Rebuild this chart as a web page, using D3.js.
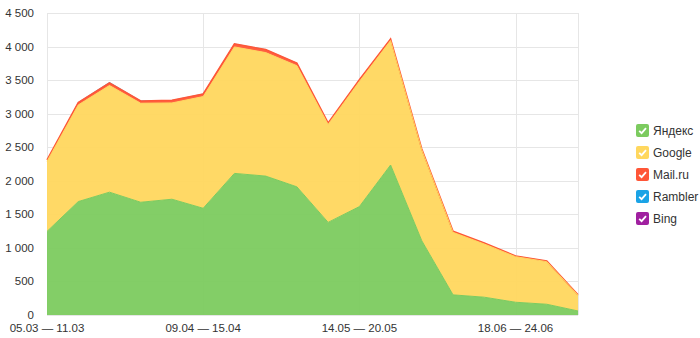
<!DOCTYPE html>
<html><head><meta charset="utf-8">
<script src="https://cdn.jsdelivr.net/npm/d3@7"></script>
<style>
body{margin:0;background:#fff;}
svg{display:block;font-family:"Liberation Sans",Arial,sans-serif;}
</style></head>
<body><svg id="c" width="700" height="338"></svg>
<script>
const categories = ["05.03 — 11.03","12.03 — 18.03","19.03 — 25.03","26.03 — 01.04","02.04 — 08.04","09.04 — 15.04","16.04 — 22.04","23.04 — 29.04","30.04 — 06.05","07.05 — 13.05","14.05 — 20.05","21.05 — 27.05","28.05 — 03.06","04.06 — 10.06","11.06 — 17.06","18.06 — 24.06","25.06 — 01.07","02.07 — 08.07"];
const seriesNames = ["Яндекс","Google","Mail.ru","Rambler","Bing"];
const yandex  = [1245,1690,1830,1680,1725,1590,2110,2070,1910,1380,1615,2235,1105,300,265,190,160,60];
const google  = [1045,1440,1590,1475,1435,1665,1885,1840,1805,1460,1865,1855,1355,932,793,679,635,235];
const mailru  = [20,35,40,35,40,40,45,45,40,22,25,25,15,15,15,12,10,8];
const rambler = [3,8,10,5,5,5,6,5,5,3,3,3,2,2,2,2,2,1];
const bing    = [0,1,1,0,0,0,1,0,0,0,0,0,0,0,0,0,0,0];
const yTicks  = [0,500,1000,1500,2000,2500,3000,3500,4000,4500];
const xLabelIdx = [0,5,10,15];
const colors = ["#7ccb5f","#ffd75e","#ff5637","#1aa3e6","#a020a0"];

const svg = d3.select("#c");
const m = {l:47, r:578, t:13, b:315};
const x = d3.scalePoint().domain(d3.range(categories.length)).range([m.l, m.r]);
const y = d3.scaleLinear().domain([0,4500]).range([m.b, m.t]);
const loc = d3.formatLocale({decimal:",", thousands:"\u00a0", grouping:[3], currency:["",""]});
const fmt = loc.format(",d");

// grid
const g = svg.append("g");
g.selectAll("line.h").data(yTicks).join("line")
  .attr("x1", m.l).attr("x2", m.r).attr("y1", d=>Math.round(y(d))+0.5).attr("y2", d=>Math.round(y(d))+0.5)
  .attr("stroke", "#e6e6e6");
g.selectAll("line.v").data(xLabelIdx.slice(1)).join("line")
  .attr("x1", d=>Math.round(x(d))+0.5).attr("x2", d=>Math.round(x(d))+0.5).attr("y1", m.t).attr("y2", m.b)
  .attr("stroke", "#e6e6e6");
g.append("line").attr("x1", m.r+0.5).attr("x2", m.r+0.5).attr("y1", m.t).attr("y2", m.b).attr("stroke","#e6e6e6");
g.append("line").attr("x1", m.l+0.5).attr("x2", m.l+0.5).attr("y1", m.t).attr("y2", m.b).attr("stroke","#e6e6e6");

// stacked data
const rows = categories.map((c,i)=>({i, "Яндекс":yandex[i], "Google":google[i], "Mail.ru":mailru[i], "Rambler":rambler[i], "Bing":bing[i]}));
const stack = d3.stack().keys(seriesNames)(rows);
const area = d3.area().x(d=>x(d.data.i)).y0(d=>y(d[0])).y1(d=>y(d[1]));
const line = d3.line().x(d=>x(d.data.i)).y(d=>y(d[1]));
svg.append("g").selectAll("path").data(stack).join("path")
  .attr("d", area).attr("fill", (d,i)=>colors[i]).attr("fill-opacity", 0.95);
// top lines: drawn from top series down so Mail.ru's red line stays on top
const lineData = stack.slice(0,3).reverse();
svg.append("g").selectAll("path").data(lineData).join("path")
  .attr("d", line).attr("fill","none").attr("stroke",d=>colors[d.index]).attr("stroke-width",d=>d.index===2?1.5:1);

// y axis labels
svg.append("g").selectAll("text").data(yTicks).join("text")
  .attr("x", 34).attr("y", d=>y(d)+4).attr("text-anchor","end")
  .attr("font-size", 11.5).attr("fill","#333").text(d=>fmt(d));
// x axis labels
svg.append("g").selectAll("text").data(xLabelIdx).join("text")
  .attr("x", d=>x(d)).attr("y", 332).attr("text-anchor","middle")
  .attr("font-size", 11.5).attr("fill","#333").text(d=>categories[d]);

// legend
const lg = svg.append("g").attr("transform","translate(636,124)");
const items = lg.selectAll("g").data(seriesNames).join("g").attr("transform",(d,i)=>`translate(0,${i*22})`);
items.append("rect").attr("width",13).attr("height",13).attr("rx",2).attr("fill",(d,i)=>colors[i]);
items.append("path").attr("d","M3.2,6.8 L5.6,9.2 L10,4.2").attr("fill","none").attr("stroke","#fff").attr("stroke-width",1.8);
items.append("text").attr("x",17).attr("y",11).attr("font-size",12).attr("fill","#333").text(d=>d);
</script></body></html>
